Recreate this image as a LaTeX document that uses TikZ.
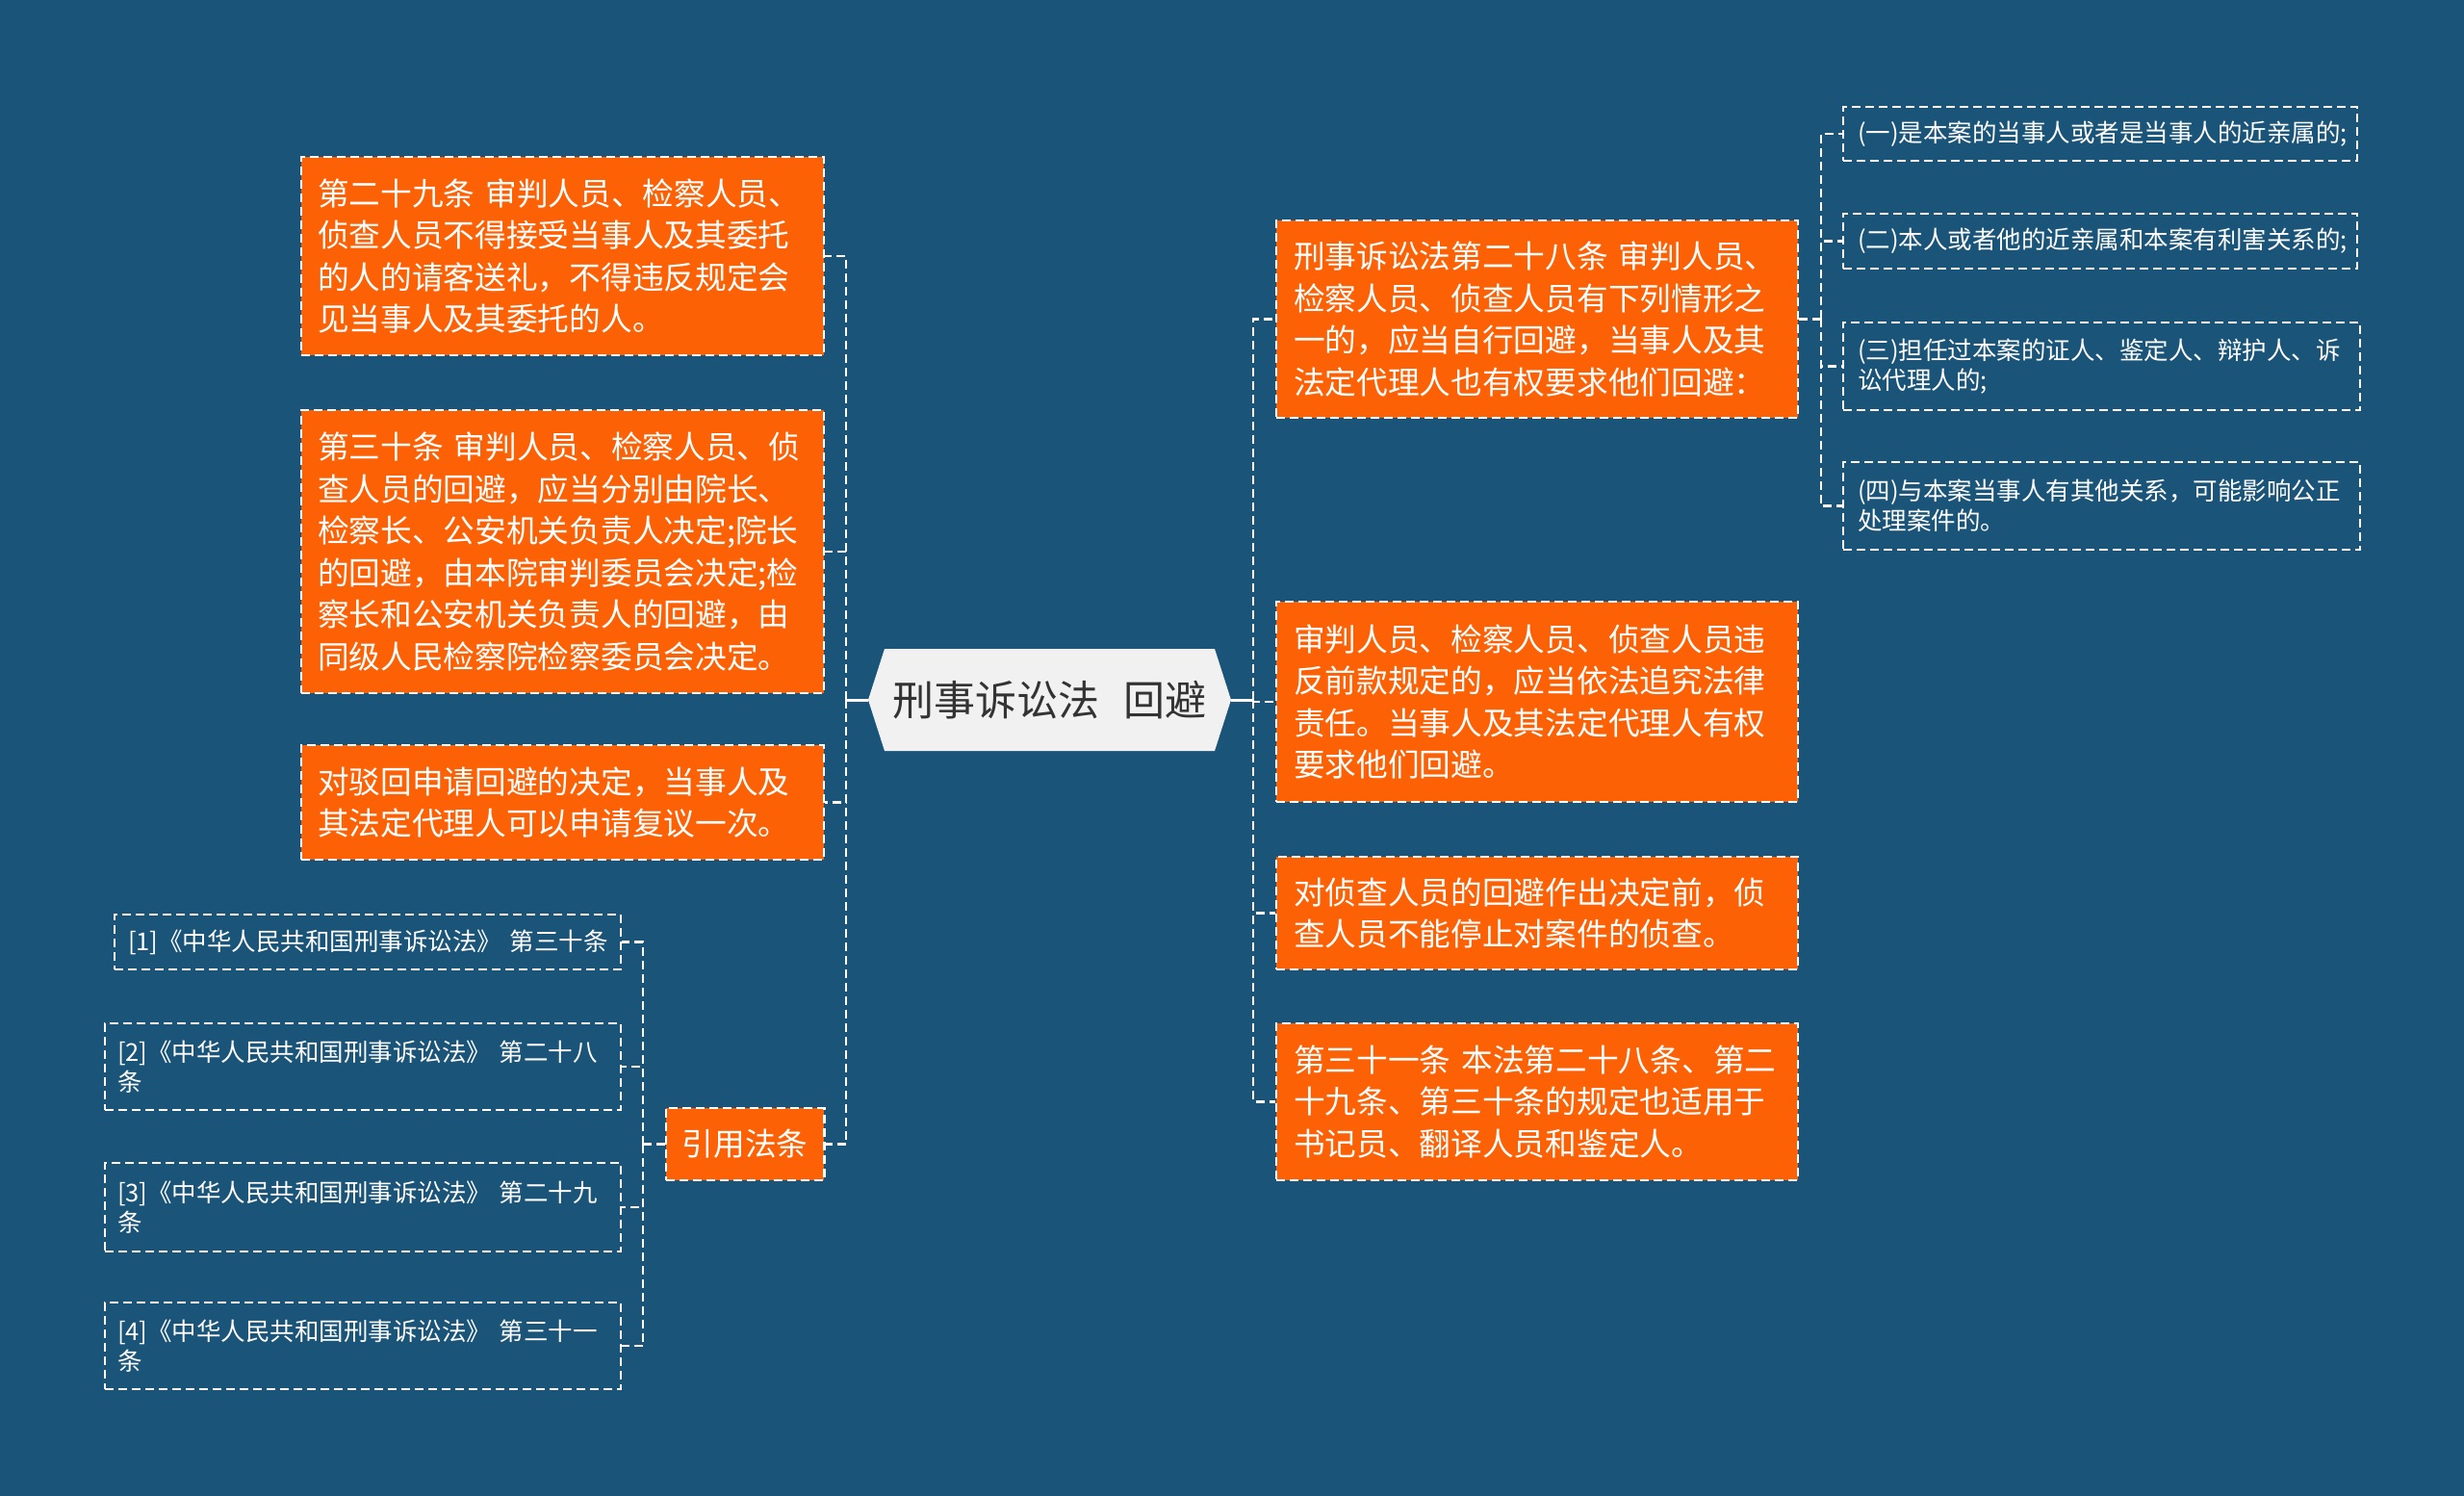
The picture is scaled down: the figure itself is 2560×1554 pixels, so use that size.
\documentclass[tikz,border=0pt]{standalone}
\usepackage{fontspec}
\newfontfamily\cjk{Noto Sans CJK SC}
\definecolor{bg}{HTML}{1A5479}
\definecolor{org}{HTML}{FC6106}
\definecolor{ctrfill}{HTML}{F1F1F1}
\definecolor{ctrtext}{HTML}{333333}
\begin{document}
\begin{tikzpicture}[x=1pt,y=-1pt,
  obox/.style={draw=white, line width=2.2pt, dash pattern=on 9pt off 5pt, fill=org, text=white,
    align=left, inner xsep=17pt, inner ysep=0pt, font=\cjk\fontsize{32.7}{43.6}\selectfont},
  sbox/.style={draw=white, line width=2pt, dash pattern=on 9pt off 5pt, text=white,
    align=left, inner xsep=14pt, inner ysep=0pt, font=\cjk\fontsize{25.5}{31}\selectfont},
  conn/.style={draw=white, line width=2.5pt, dash pattern=on 9pt off 5pt},
  solidconn/.style={draw=white, line width=3pt}]
\useasboundingbox (0,0) rectangle (2560,1554);
\fill[bg] (0,0) rectangle (2560,1554);

% center
\fill[ctrfill] (902,727) -- (919,674) -- (1262,674) -- (1279,727) -- (1262,780) -- (919,780) -- cycle;
\node[inner sep=0pt, minimum width=377pt, minimum height=106pt, text=ctrtext,
  font=\cjk\fontsize{43}{50}\selectfont] (ctr) at (1090.5,727) {刑事诉讼法\hspace{25pt}回避};

% left boxes
\node[obox, minimum width=543pt, minimum height=206pt, text width=509pt] (L1) at (584.5,266)
 {第二十九条 审判人员、检察人员、\\侦查人员不得接受当事人及其委托\\的人的请客送礼，不得违反规定会\\见当事人及其委托的人。};
\node[obox, minimum width=543pt, minimum height=294pt, text width=509pt] (L2) at (584.5,573)
 {第三十条 审判人员、检察人员、侦\\查人员的回避，应当分别由院长、\\检察长、公安机关负责人决定;院长\\的回避，由本院审判委员会决定;检\\察长和公安机关负责人的回避，由\\同级人民检察院检察委员会决定。};
\node[obox, minimum width=543pt, minimum height=119pt, text width=509pt] (L3) at (584.5,833.5)
 {对驳回申请回避的决定，当事人及\\其法定代理人可以申请复议一次。};
\node[obox, minimum width=164pt, minimum height=75pt, align=center] (cite) at (774,1188.5) {引用法条};

% references
\node[sbox, minimum width=526pt, minimum height=57pt, text width=498pt] (ref1) at (382,978.5)
 {\mbox{[1]《中华人民共和国刑事诉讼法》 第三十条}};
\node[sbox, inner xsep=13pt, minimum width=536pt, minimum height=90pt, text width=510pt] (ref2) at (377,1108)
 {[2]《中华人民共和国刑事诉讼法》 第二十八\\条};
\node[sbox, inner xsep=13pt, minimum width=536pt, minimum height=92pt, text width=510pt] (ref3) at (377,1254)
 {[3]《中华人民共和国刑事诉讼法》 第二十九\\条};
\node[sbox, inner xsep=13pt, minimum width=536pt, minimum height=90pt, text width=510pt] (ref4) at (377,1398)
 {[4]《中华人民共和国刑事诉讼法》 第三十一\\条};

% right boxes
\node[obox, inner xsep=18pt, minimum width=542pt, minimum height=205pt, text width=506pt] (R1) at (1597,331.5)
 {刑事诉讼法第二十八条 审判人员、\\检察人员、侦查人员有下列情形之\\一的，应当自行回避，当事人及其\\法定代理人也有权要求他们回避：};
\node[obox, inner xsep=18pt, minimum width=542pt, minimum height=208pt, text width=506pt] (R2) at (1597,729)
 {审判人员、检察人员、侦查人员违\\反前款规定的，应当依法追究法律\\责任。当事人及其法定代理人有权\\要求他们回避。};
\node[obox, inner xsep=18pt, minimum width=542pt, minimum height=117pt, text width=506pt] (R3) at (1597,948.5)
 {对侦查人员的回避作出决定前，侦\\查人员不能停止对案件的侦查。};
\node[obox, inner xsep=18pt, minimum width=542pt, minimum height=163pt, text width=506pt] (R4) at (1597,1144.5)
 {第三十一条 本法第二十八条、第二\\十九条、第三十条的规定也适用于\\书记员、翻译人员和鉴定人。};

% far right boxes
\node[sbox, inner xsep=15pt, minimum width=534pt, minimum height=56pt, text width=504pt] (F1) at (2182,139)
 {\mbox{(一)是本案的当事人或者是当事人的近亲属的;}};
\node[sbox, inner xsep=15pt, minimum width=534pt, minimum height=57pt, text width=504pt] (F2) at (2182,250.5)
 {\mbox{(二)本人或者他的近亲属和本案有利害关系的;}};
\node[sbox, inner xsep=15pt, minimum width=537pt, minimum height=91pt, text width=507pt] (F3) at (2183.5,380.5)
 {(三)担任过本案的证人、鉴定人、辩护人、诉\\讼代理人的;};
\node[sbox, inner xsep=15pt, minimum width=537pt, minimum height=91pt, text width=507pt] (F4) at (2183.5,525.5)
 {(四)与本案当事人有其他关系，可能影响公正\\处理案件的。};

% junctions
\coordinate (lj) at (879,727);
\coordinate (rj) at (1302,727);
\coordinate (fj) at (1892,331.5);
\coordinate (cj) at (668,1188.5);

% connectors
\draw[solidconn] (ctr.west) -- (lj);
\draw[solidconn] (ctr.east) -- (rj);
\foreach \n in {L1,L2,L3,cite} \draw[conn] (lj) |- (\n.east);
\foreach \n in {R1,R2,R3,R4} \draw[conn] (rj) |- (\n.west);
\draw[conn] (R1.east) -- (fj);
\foreach \n in {F1,F2,F3,F4} \draw[conn] (fj) |- (\n.west);
\draw[conn] (cite.west) -- (cj);
\foreach \n in {ref1,ref2,ref3,ref4} \draw[conn] (cj) |- (\n.east);
\end{tikzpicture}
\end{document}
